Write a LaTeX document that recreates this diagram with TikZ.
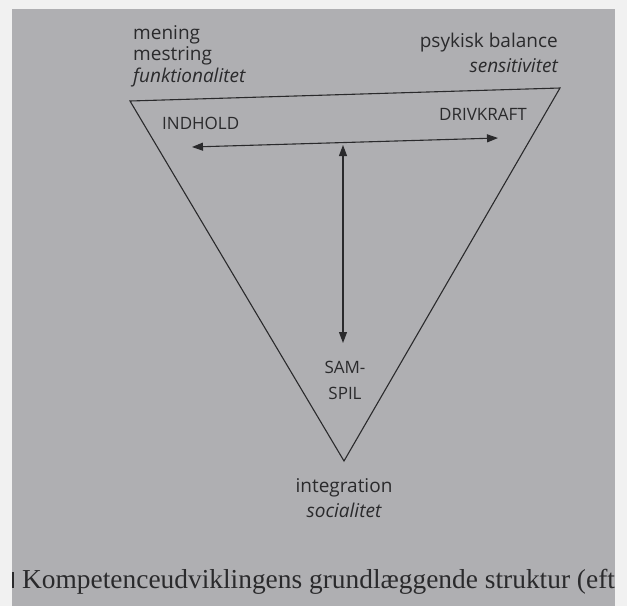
\documentclass[tikz,border=0pt]{standalone}
\usepackage{fontspec}
\setmainfont{Open Sans}
\newfontfamily\capfont{Liberation Serif}
\usetikzlibrary{arrows.meta}
\definecolor{pagegray}{HTML}{AFAFB2}
\definecolor{framegray}{HTML}{F1F1F1}
\definecolor{ink}{HTML}{2A2A2C}
\tikzset{
  lbl/.style={inner sep=0pt, text=ink, font=\fontsize{19}{22}\selectfont},
  ilbl/.style={lbl, font=\fontsize{19}{22}\selectfont\itshape},
  caps/.style={inner sep=0pt, text=ink, font=\fontsize{17}{20}\selectfont},
  edge/.style={draw=ink, line width=1.1pt},
  dbl/.style={draw=ink, line width=1.1pt, {Triangle[length=11pt,width=8pt]}-{Triangle[length=11pt,width=8pt]}}
}
\begin{document}
\begin{tikzpicture}[x=1pt,y=-1pt]
\useasboundingbox (0,0) rectangle (627,606);
\fill[framegray] (0,0) rectangle (627,606);
\fill[pagegray] (12,9) rectangle (615,606);
% triangle
\coordinate (tl) at (130,101);
\coordinate (tr) at (560,88);
\coordinate (bt) at (344,461);
\draw[edge, line join=miter] (tl) -- (tr) -- (bt) -- cycle;
% arrows
\coordinate (hl) at (192,147);
\coordinate (hr) at (498,138);
\coordinate (vt) at (343,145);
\coordinate (vb) at (343,343);
\draw[dbl] (hl) -- (hr);
\draw[dbl] (vt) -- (vb);
% labels
\node[lbl, anchor=base west] (mening) at (133,39) {mening};
\node[lbl, anchor=base west] (mestring) at (133,60) {mestring};
\node[ilbl, anchor=base west] (funk) at (133,82) {funktionalitet};
\node[lbl, anchor=base east] (psyk) at (558,47) {psykisk balance};
\node[ilbl, anchor=base east] (sens) at (558,72) {sensitivitet};
\node[caps, anchor=base west] (indhold) at (162,129) {INDHOLD};
\node[caps, anchor=base east] (drivkraft) at (527,120) {DRIVKRAFT};
\node[caps, anchor=base] (sam) at (345,373) {SAM-};
\node[caps, anchor=base] (spil) at (345,399) {SPIL};
\node[lbl, anchor=base] (integ) at (344,492) {integration};
\node[ilbl, anchor=base] (soc) at (344,517) {socialitet};
% caption (cut at the page edge in the photo)
\node[inner sep=0pt, anchor=base west, text=ink, font=\capfont\fontsize{27.4}{32}\selectfont] (cap) at (22,588) {Kompetenceudviklingens grundlæggende struktur (eft};
\fill[ink] (12,572) rectangle (14,588);
\end{tikzpicture}
\end{document}
